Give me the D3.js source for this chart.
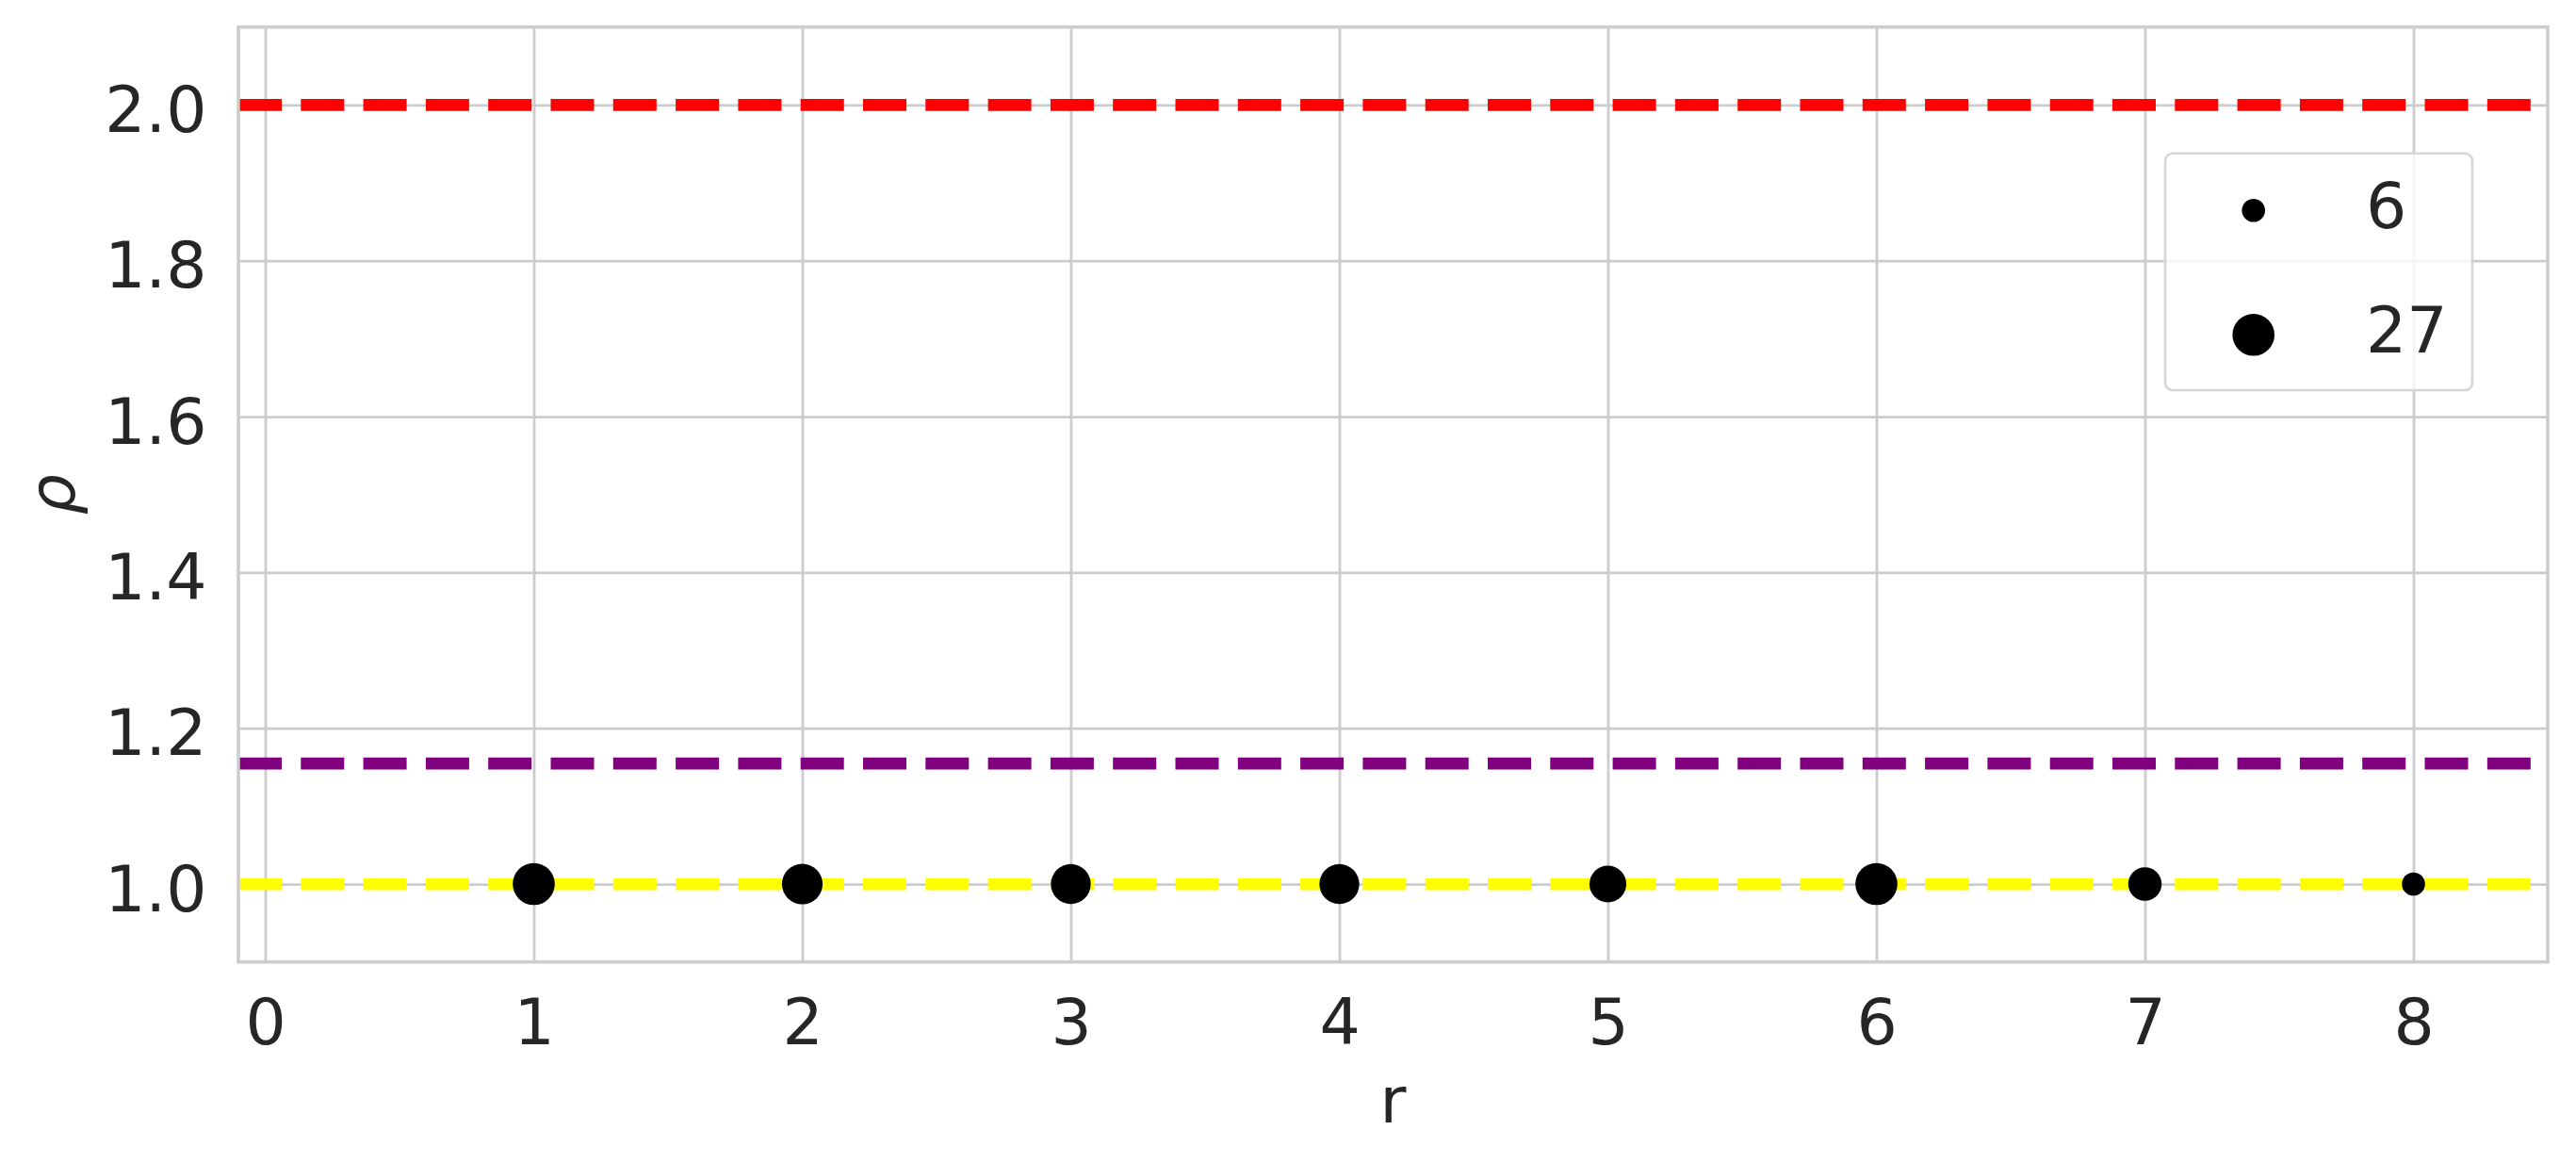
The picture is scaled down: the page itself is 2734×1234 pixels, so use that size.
<!DOCTYPE html>
<html>
<head>
<meta charset="utf-8">
<script src="https://cdn.jsdelivr.net/npm/d3@7"></script>
<style>
  html, body { margin: 0; padding: 0; background: #ffffff; }
  svg { display: block; }
  text { font-family: "DejaVu Sans", sans-serif; fill: #262626; }
</style>
</head>
<body>
<svg id="chart" width="2734" height="1234"></svg>
<script>
// ---- data ----
const rValues = [1, 2, 3, 4, 5, 6, 7, 8];
const rhoValues = [1.0, 1.0, 1.0, 1.0, 1.0, 1.0, 1.0, 1.0];
const sizeValues = [27, 25, 24, 24, 20, 27, 16, 6];
const legendSizes = [6, 27];
const refLines = [
  { value: 2.0, color: "#ff0000" },
  { value: 2 / Math.sqrt(3), color: "#800080" },
  { value: 1.0, color: "#ffff00" }
];
const xTicks = [0, 1, 2, 3, 4, 5, 6, 7, 8];
const yTicks = [1.0, 1.2, 1.4, 1.6, 1.8, 2.0];
const xLabel = "r";
const yLabel = "ρ";

// ---- layout ----
const plot = { left: 253, right: 2704, top: 28.7, bottom: 1020.7 };
const svg = d3.select("#chart");

const x = d3.scaleLinear().domain([-0.1, 8.5]).range([plot.left, plot.right]);
const y = d3.scaleLinear().domain([0.9, 2.1]).range([plot.bottom, plot.top]);
// area-proportional size mapping
const rScale = d3.scaleLinear().domain([6, 27]).range([12.3 * 12.3, 22.3 * 22.3]);
const radius = v => Math.sqrt(rScale(v));

const fontSize = 68;
const gridColor = "#cccccc";

// ---- grid via axes ----
const xAxis = d3.axisBottom(x).tickValues(xTicks).tickFormat(d3.format("d"))
  .tickSizeInner(-(plot.bottom - plot.top)).tickSizeOuter(0);
const gx = svg.append("g").attr("transform", `translate(0,${plot.bottom})`).call(xAxis);
gx.select(".domain").remove();
gx.selectAll(".tick line").attr("stroke", gridColor).attr("stroke-width", 2.8);
gx.selectAll(".tick text").attr("y", 87.3).attr("dy", 0)
  .attr("font-size", fontSize).attr("fill", "#262626")
  .attr("font-family", "DejaVu Sans");

const yAxis = d3.axisLeft(y).tickValues(yTicks).tickFormat(d3.format(".1f"))
  .tickSizeInner(-(plot.right - plot.left)).tickSizeOuter(0);
const gy = svg.append("g").attr("transform", `translate(${plot.left},0)`).call(yAxis);
gy.select(".domain").remove();
gy.selectAll(".tick line").attr("stroke", gridColor).attr("stroke-width", 2.8);
gy.selectAll(".tick text").attr("x", -33.5).attr("y", 28).attr("dy", 0)
  .attr("font-size", fontSize).attr("fill", "#262626")
  .attr("font-family", "DejaVu Sans");

// ---- reference lines ----
svg.append("g").selectAll("line").data(refLines.slice().reverse()).join("line")
  .attr("x1", plot.left).attr("x2", plot.right)
  .attr("y1", d => y(d.value)).attr("y2", d => y(d.value))
  .attr("stroke", d => d.color).attr("stroke-width", 12.7)
  .attr("stroke-dasharray", "46,20.3").attr("stroke-linecap", "butt");

// ---- points ----
svg.append("g").selectAll("circle").data(rValues).join("circle")
  .attr("cx", (d) => x(d))
  .attr("cy", (d, i) => y(rhoValues[i]))
  .attr("r", (d, i) => radius(sizeValues[i]))
  .attr("fill", "#000000");

// ---- spines ----
svg.append("rect")
  .attr("x", plot.left).attr("y", plot.top)
  .attr("width", plot.right - plot.left).attr("height", plot.bottom - plot.top)
  .attr("fill", "none").attr("stroke", gridColor).attr("stroke-width", 3.5);

// ---- axis labels ----
svg.append("text").attr("x", (plot.left + plot.right) / 2).attr("y", 1190.7)
  .attr("text-anchor", "middle").attr("font-size", fontSize).text(xLabel);
svg.append("text")
  .attr("transform", `translate(79,${(plot.top + plot.bottom) / 2}) rotate(-90)`)
  .attr("text-anchor", "middle").attr("font-size", fontSize)
  .attr("font-style", "italic").text(yLabel);

// ---- legend ----
const legend = svg.append("g");
legend.append("rect")
  .attr("x", 2298).attr("y", 162.7).attr("width", 326).attr("height", 251.3)
  .attr("rx", 8).attr("ry", 8)
  .attr("fill", "#ffffff").attr("fill-opacity", 0.8)
  .attr("stroke", "#d6d6d6").attr("stroke-width", 2.6);
const legendRowY = [223.3, 355.3];
const legendItems = legend.selectAll("g.item").data(legendSizes).join("g").attr("class", "item");
legendItems.append("circle")
  .attr("cx", 2391.7).attr("cy", (d, i) => legendRowY[i])
  .attr("r", d => radius(d)).attr("fill", "#000000");
legendItems.append("text")
  .attr("x", 2511).attr("y", (d, i) => legendRowY[i] + 18.5)
  .attr("font-size", fontSize).text(d => d);
</script>
</body>
</html>
